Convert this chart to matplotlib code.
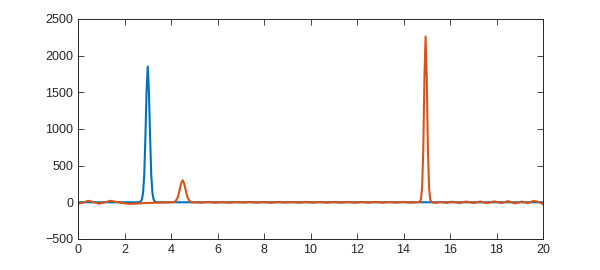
import matplotlib
matplotlib.use('Agg')
import matplotlib.pyplot as plt

# blue series: single sharp peak near x = 3
x_blue = [0, 2.6, 2.7, 2.75, 2.8, 2.85, 2.9, 2.95, 3.0, 3.05, 3.1, 3.15, 3.2, 3.25, 3.3, 3.4, 20]
y_blue = [0, 0, 10, 40, 130, 380, 900, 1520, 1850, 1520, 900, 380, 130, 40, 10, 0, 0]

# orange series: ripples, small peak at 4.5, tall peak near 15
x_orange = [0, 0.2, 0.45, 0.7, 0.9, 1.15, 1.4, 1.65, 1.9, 2.2, 2.5, 2.8, 3.1, 3.4, 3.7, 4.0,
            4.15, 4.2, 4.3, 4.4, 4.45, 4.5, 4.55, 4.6, 4.7, 4.8, 4.9,
            5.0, 5.3, 5.6, 5.9, 6.2, 6.5, 6.8, 7.1, 7.4, 7.7, 8.0, 8.3, 8.6, 8.9, 9.2, 9.5,
            9.8, 10.1, 10.4, 10.7, 11.0, 11.3, 11.6, 11.9, 12.2, 12.5, 12.8, 13.1, 13.4,
            13.7, 14.0, 14.3, 14.6,
            14.7, 14.75, 14.8, 14.85, 14.9, 14.95, 15.0, 15.05, 15.1, 15.15, 15.2,
            15.35, 15.6, 15.85, 16.1, 16.4, 16.7, 17.0, 17.3, 17.6, 17.9, 18.2, 18.5,
            18.8, 19.1, 19.35, 19.6, 19.85, 20.0]
y_orange = [-20, -5, 20, 0, -20, 0, 20, 5, -10, -22, -18, -12, -8, -5, -3, 0,
            5, 15, 75, 210, 270, 300, 270, 210, 75, 15, 0,
            0, -5, 5, -5, 3, -6, 4, -4, 5, -5, 3, -6, 5, -4, 4, -5,
            5, -4, 4, -5, 5, -5, 4, -6, 5, -4, 5, -5, 4,
            -4, 5, -5, 3,
            5, 40, 200, 700, 1700, 2260, 1700, 700, 200, 40, 5,
            -10, 5, -8, 8, -10, 10, -10, 10, -12, 12, -10, 15,
            -15, 10, -12, 20, 0, -25]

fig = plt.figure(figsize=(6, 2.7), dpi=100)
ax = fig.add_axes([0.13, 0.115, 0.775, 0.815])

ax.plot(x_blue, y_blue, color='#0072BD', lw=1.5)
ax.plot(x_orange, y_orange, color='#D95319', lw=1.5)

ax.set_xlim(0, 20)
ax.set_ylim(-500, 2500)
ax.set_xticks(range(0, 21, 2))
ax.set_yticks(range(-500, 2501, 500))

ax.tick_params(direction='in', length=4, width=0.6, colors='#262626',
               labelsize=9, top=True, right=True)
for lbl in ax.get_xticklabels() + ax.get_yticklabels():
    lbl.set_fontfamily('Liberation Sans')
for s in ax.spines.values():
    s.set_linewidth(0.7)
    s.set_color('#262626')

fig.savefig('out.png')
